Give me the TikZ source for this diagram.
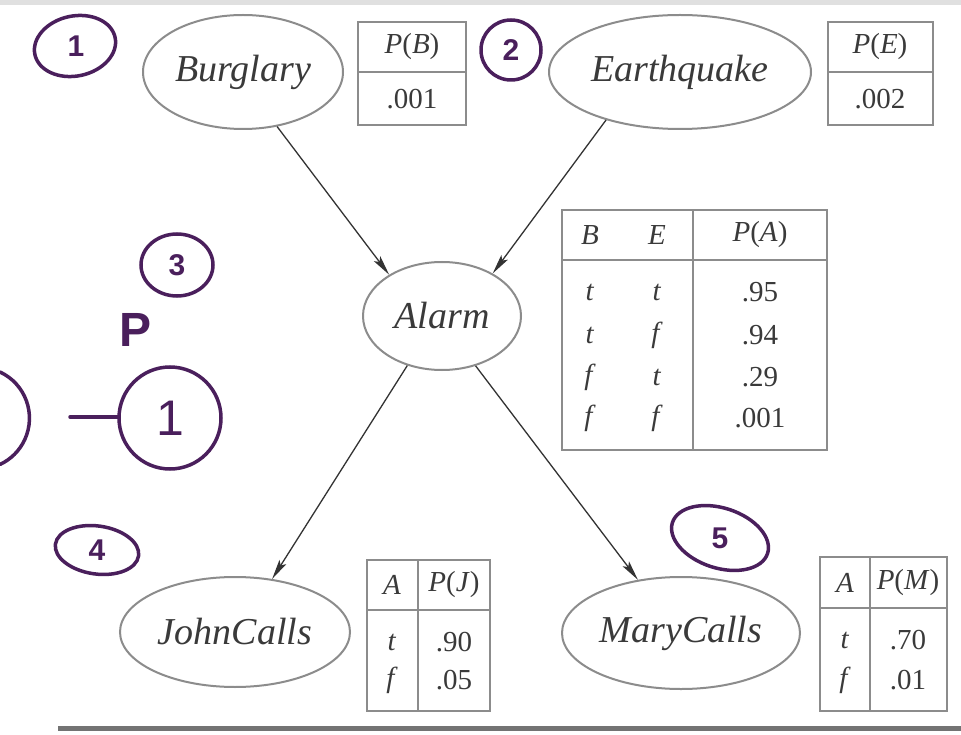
\documentclass[tikz,border=0pt]{standalone}
\usepackage{fontspec}
\setmainfont{Liberation Serif}
\newfontfamily\hand{Liberation Sans}
\usetikzlibrary{arrows.meta,shapes.geometric}
\definecolor{ink}{HTML}{4A1F5C}
\definecolor{rule}{HTML}{8C8C8C}
\definecolor{txt}{HTML}{3A3A3A}
\begin{document}
\begin{tikzpicture}[x=1pt,y=-1pt,
  var/.style={ellipse, draw=rule, line width=2pt, inner sep=0pt, text=txt,
    font=\fontsize{38}{42}\selectfont\itshape},
  edge/.style={draw=black!80, line width=1.3pt, -{Stealth[length=20pt,width=8pt,inset=4pt]}},
  tab/.style={draw=rule, line width=2pt},
  cell/.style={text=txt, font=\fontsize{29}{32}\selectfont, inner sep=0pt},
  pen/.style={draw=ink, line width=3.5pt, line cap=round},
  handtxt/.style={text=ink, font=\hand\bfseries\fontsize{30}{34}\selectfont, inner sep=0pt}]
\useasboundingbox (0,0) rectangle (961,735);
\fill[white] (0,0) rectangle (961,735);
\fill[black!12] (0,0) rectangle (961,5);

% variables
\node[var, minimum width=200pt, minimum height=114pt] (b) at (243,72) {Burglary};
\node[var, minimum width=262pt, minimum height=114pt] (e) at (680,72) {Earthquake};
\node[var, minimum width=158pt, minimum height=108pt] (a) at (442,316) {Alarm};
\node[var, minimum width=230pt, minimum height=110pt] (j) at (235,632) {JohnCalls};
\node[var, minimum width=238pt, minimum height=112pt] (m) at (681,633) {MaryCalls};

% edges
\draw[edge] (b.-58) -- (a.142);
\draw[edge] (e.213) -- (a.40);
\draw[edge] (a.-125) -- (j.55);
\draw[edge] (a.-56) -- (m.129);

% CPT for B
\draw[tab] (358,22) rectangle (466,125);
\draw[tab] (358,72) -- (466,72);
\node[cell] (pbh) at (412,47) {\textit{P}(\textit{B})};
\node[cell] (pbv) at (412,99) {.001};

% CPT for E
\draw[tab] (828,22) rectangle (933,125);
\draw[tab] (828,72) -- (933,72);
\node[cell] (peh) at (880,47) {\textit{P}(\textit{E})};
\node[cell] (pev) at (880,99) {.002};

% CPT for A
\draw[tab] (562,210) rectangle (827,450);
\draw[tab] (562,260) -- (827,260);
\draw[tab] (693,210) -- (693,450);
\node[cell] (ahb) at (590,235) {\textit{B}};
\node[cell] (ahe) at (657,235) {\textit{E}};
\node[cell] (ahp) at (760,235) {\textit{P}(\textit{A})};
\node[cell] (a1b) at (590,292) {\textit{t}};
\node[cell] (a1e) at (657,292) {\textit{t}};
\node[cell] (a1p) at (760,292) {.95};
\node[cell] (a2b) at (590,335) {\textit{t}};
\node[cell] (a2e) at (657,335) {\textit{f}};
\node[cell] (a2p) at (760,335) {.94};
\node[cell] (a3b) at (590,377) {\textit{f}};
\node[cell] (a3e) at (657,377) {\textit{t}};
\node[cell] (a3p) at (760,377) {.29};
\node[cell] (a4b) at (590,418) {\textit{f}};
\node[cell] (a4e) at (657,418) {\textit{f}};
\node[cell] (a4p) at (760,418) {.001};

% CPT for J
\draw[tab] (367,560) rectangle (490,711);
\draw[tab] (367,610) -- (490,610);
\draw[tab] (418,560) -- (418,711);
\node[cell] (jha) at (392,585) {\textit{A}};
\node[cell] (jhp) at (454,585) {\textit{P}(\textit{J})};
\node[cell] (j1a) at (392,642) {\textit{t}};
\node[cell] (j1p) at (454,642) {.90};
\node[cell] (j2a) at (392,680) {\textit{f}};
\node[cell] (j2p) at (454,680) {.05};

% CPT for M
\draw[tab] (820,557) rectangle (947,711);
\draw[tab] (820,608) -- (947,608);
\draw[tab] (870,557) -- (870,711);
\node[cell] (mha) at (845,583) {\textit{A}};
\node[cell] (mhp) at (908,583) {\textit{P}(\textit{M})};
\node[cell] (m1a) at (845,640) {\textit{t}};
\node[cell] (m1p) at (908,640) {.70};
\node[cell] (m2a) at (845,680) {\textit{f}};
\node[cell] (m2p) at (908,680) {.01};

% bottom rule
\draw[draw=black!55, line width=5pt] (58,728) -- (961,728);

% handwritten annotations
\draw[pen, rotate around={12:(75,46)}] (75,46) ellipse [x radius=41pt, y radius=30pt];
\node[handtxt] (h1) at (76,46) {1};
\draw[pen] (511,50) circle [radius=30pt];
\node[handtxt] (h2) at (511,50) {2};
\draw[pen] (177,265) ellipse [x radius=36pt, y radius=31pt];
\node[handtxt] (h3) at (177,265) {3};
\node[handtxt, font=\hand\bfseries\fontsize{48}{52}\selectfont] (hp) at (136,330) {P};
\draw[pen] (170,418) circle [radius=51pt];
\node[handtxt, font=\hand\fontsize{50}{54}\selectfont] (h1b) at (170,418) {1};
\draw[pen] (70,417) -- (119,417);
\draw[pen] (0,372) arc[start angle=65, end angle=-65, radius=51pt];
\draw[pen, rotate around={-8:(97,550)}] (97,550) ellipse [x radius=42pt, y radius=24pt];
\node[handtxt] (h4) at (97,550) {4};
\draw[pen, rotate around={-18:(720,538)}] (720,538) ellipse [x radius=50pt, y radius=30pt];
\node[handtxt] (h5) at (720,538) {5};
\end{tikzpicture}
\end{document}
